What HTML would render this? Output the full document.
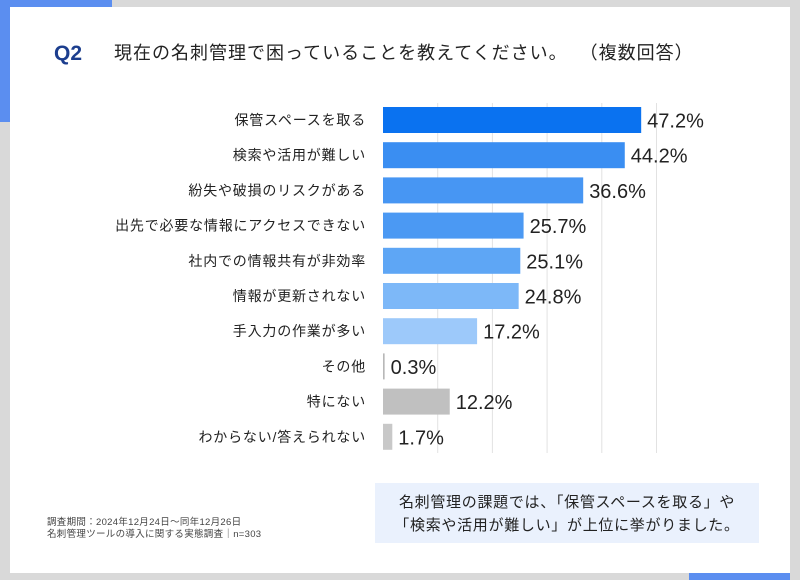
<!DOCTYPE html>
<html><head><meta charset="utf-8">
<style>
html,body{margin:0;padding:0;width:800px;height:580px;overflow:hidden;background:#d9d9d9;}
svg{display:block;font-family:"Liberation Sans","Noto Sans CJK JP",sans-serif;}
</style></head>
<body>
<svg id="chart" width="800" height="580" viewBox="0 0 800 580">
  <rect x="0" y="0" width="800" height="580" fill="#d9d9d9"/>
  <rect x="0" y="0" width="112" height="8" fill="#5b8ef0"/>
  <rect x="0" y="0" width="10" height="122" fill="#5b8ef0"/>
  <rect x="689" y="545" width="101" height="35" fill="#5b8ef0"/>
  <rect x="10" y="7" width="780" height="566" fill="#ffffff"/>
  <text x="54" y="60" font-size="21" font-weight="bold" fill="#1c3e8e">Q2</text>
  <text x="114" y="59" font-size="18" letter-spacing="1" fill="#222" xml:space="preserve">現在の名刺管理で困っていることを教えてください。  （複数回答）</text>
  <g id="grid"></g>
  <g id="bars"></g>
  <text x="47" y="525" font-size="9.5" letter-spacing="0.3" fill="#444">調査期間：2024年12月24日〜同年12月26日</text>
  <text x="47" y="537" font-size="9.5" letter-spacing="0.3" fill="#444">名刺管理ツールの導入に関する実態調査｜n=303</text>
  <rect x="375" y="483" width="384" height="60" fill="#eaf1fd"/>
  <text x="567" y="507" font-size="15" letter-spacing="0.7" fill="#222" text-anchor="middle">名刺管理の課題では、「保管スペースを取る」や</text>
  <text x="567" y="530" font-size="15" letter-spacing="0.7" fill="#222" text-anchor="middle">「検索や活用が難しい」が上位に挙がりました。</text>
</svg>
<script>
const categories = ["保管スペースを取る","検索や活用が難しい","紛失や破損のリスクがある","出先で必要な情報にアクセスできない","社内での情報共有が非効率","情報が更新されない","手入力の作業が多い","その他","特にない","わからない/答えられない"];
const values = [47.2,44.2,36.6,25.7,25.1,24.8,17.2,0.3,12.2,1.7];
const gridTicks = [10,20,30,40,50];
const barColors = ["#0a72f0","#3a8ef2","#4796f3","#4b99f3","#5ea6f5","#7db8f8","#9dc9fa","#b8b8b8","#c0c0c0","#c8c8c8"];

const NS="http://www.w3.org/2000/svg";
const X0=383, PXPER=5.47, TOPY=107, PITCH=35.2, BH=26;
const xs=v=>X0+v*PXPER;
const ys=i=>TOPY+i*PITCH;
const grid=document.getElementById('grid');
gridTicks.forEach(t=>{
  const l=document.createElementNS(NS,'line');
  l.setAttribute('x1',xs(t));l.setAttribute('x2',xs(t));
  l.setAttribute('y1',103);l.setAttribute('y2',453);
  l.setAttribute('stroke','#e2e2e2');l.setAttribute('stroke-width','1');
  
  
  grid.appendChild(l);
});
const bars=document.getElementById('bars');
categories.forEach((c,i)=>{
  const y=ys(i);
  const lab=document.createElementNS(NS,'text');
  lab.setAttribute('x',366);lab.setAttribute('y',y+BH/2+5);
  lab.setAttribute('text-anchor','end');lab.setAttribute('font-size','14');lab.setAttribute('letter-spacing','0.8');lab.setAttribute('fill','#222');
  lab.textContent=c;
  
  
  bars.appendChild(lab);
  const r=document.createElementNS(NS,'rect');
  r.setAttribute('x',X0);r.setAttribute('y',y);
  r.setAttribute('width',Math.max(values[i]*PXPER,1.5));r.setAttribute('height',BH);
  r.setAttribute('fill',barColors[i]);
  
  
  bars.appendChild(r);
  const v=document.createElementNS(NS,'text');
  v.setAttribute('x',xs(values[i])+6);v.setAttribute('y',y+BH/2+7.5);
  v.setAttribute('font-size','20');v.setAttribute('fill','#222');
  v.textContent=values[i].toFixed(1)+'%';
  
  
  bars.appendChild(v);
});
</script>
</body></html>
